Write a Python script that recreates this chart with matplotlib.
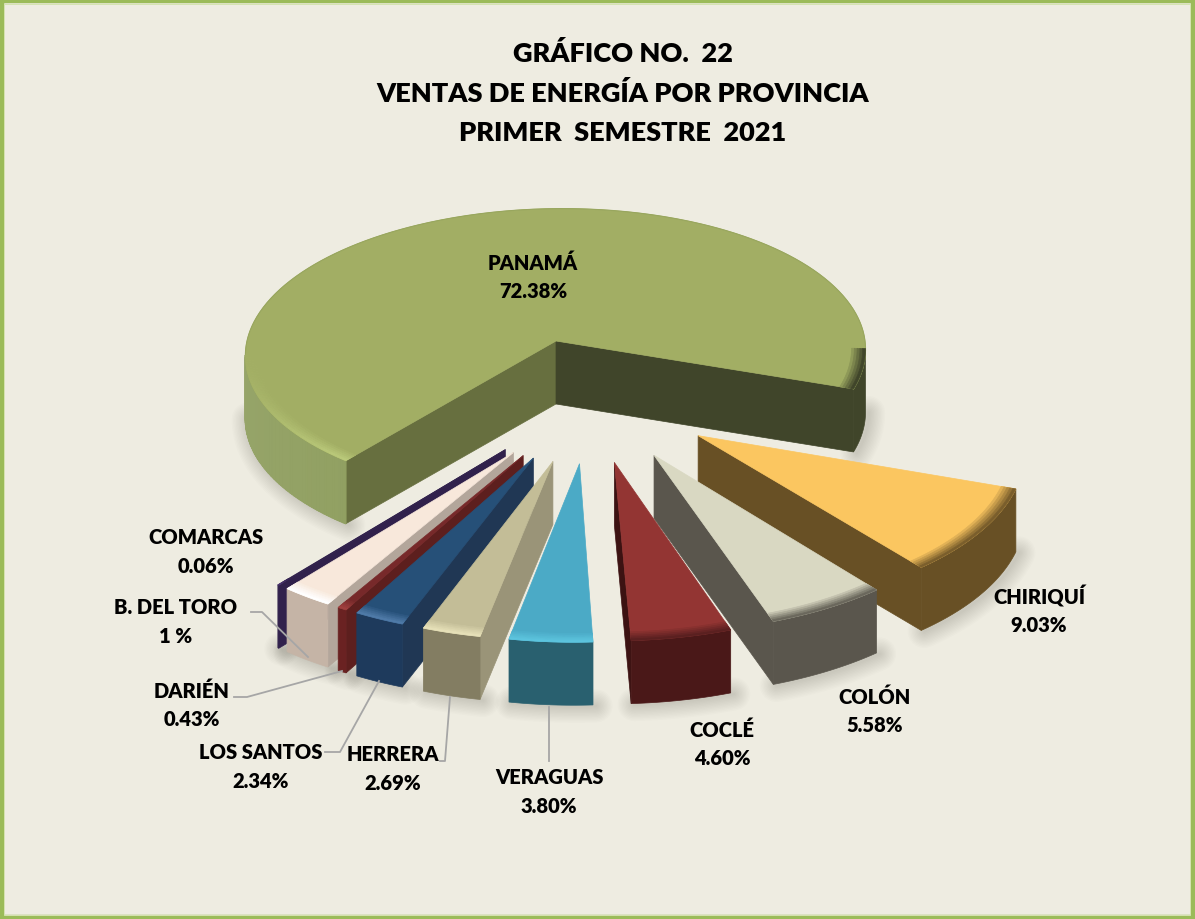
import numpy as np
import matplotlib
matplotlib.use('Agg')
import matplotlib.pyplot as plt
from matplotlib.patches import Polygon, Rectangle
from matplotlib.colors import to_rgb

# ==== DATOS ====
provincias = ['PANAMÁ', 'CHIRIQUÍ', 'COLÓN', 'COCLÉ', 'VERAGUAS', 'HERRERA',
              'LOS SANTOS', 'DARIÉN', 'B. DEL TORO', 'COMARCAS']
etiquetas = ['72.38%', '9.03%', '5.58%', '4.60%', '3.80%', '2.69%',
             '2.34%', '0.43%', '1 %', '0.06%']
# tamaños: los rotulos suman mas de 100 %, Panama se ve
# un poco menor que su rotulo y B. del Toro mas ancha que "1 %"
valores = [71.0, 9.03, 5.58, 4.60, 3.80, 2.69, 2.34, 0.43, 2.4, 0.06]

color_tapa = ['#A2AE64', '#FBC660', '#D9D8C2', '#933533', '#4BAAC6',
              '#C3BD97', '#265078', '#77292A', '#F8E8DB', '#31214C']
color_arco = ['#8A9A58', '#685025', '#5A564D', '#4A1818', '#29606F',
              '#837D62', '#1E3A5C', '#6A2222', '#C5B4A6', '#31214C']
color_cara1 = ['#676F3F', '#685025', '#5A564D', '#3C1212', '#29606F',
               '#9A9478', '#203754', '#5D1F1E', '#B3A69B', '#31214C']
color_cara2 = ['#40452A', '#685025', '#5A564D', '#3C1212', '#29606F',
               '#9A9478', '#203754', '#5D1F1E', '#B3A69B', '#31214C']
color_borde = ['#BAC97A', '#7A5E2C', '#6A675C', '#5A2020', '#5CC4DE',
               '#E6E0B8', '#4F7AA8', '#A0403E', '#FFFFFF', '#4B3570']

# orden de pintado, de atras hacia adelante
orden = [0, 1, 2, 3, 9, 8, 7, 6, 5, 4]

# posiciones de los textos (x, y de la primera linea)
pos_texto = [(533, 263), (1039, 597), (875, 697), (722, 730), (549, 778),
             (393, 755), (261, 753), (192, 691), (176, 608), (206, 538)]
SEP = 29

lineas_guia = [
    [(251, 613), (262, 613), (308, 658)],
    [(234, 698), (247, 698), (342, 672)],
    [(325, 753), (340, 753), (379, 682)],
    [(440, 762), (445, 762), (450, 698)],
    [(549, 708), (549, 762)],
]

# ==== PROYECCION ====
CX, CY = 556, 342
A, B, K = 309, 143, 0.08
CORTE = -7
ALTO = 63
EXPL = 0.41
INICIO = 128.3


def proy(x, y):
    w = 1 - K*y
    return CX + (A*x + CORTE*y)/w, CY + B*y/w


def mezcla(c1, c2, t):
    c1, c2 = np.array(to_rgb(c1)), np.array(to_rgb(c2))
    return tuple(c1*(1-t) + c2*t)


def cuad(ax, pts, color, z=1, lw=0.5):
    ax.add_patch(Polygon(pts, closed=True, fc=color, ec=color, lw=lw, zorder=z))


fig = plt.figure(figsize=(11.95, 9.20), dpi=100)
fig.patch.set_facecolor('#EEECE1')
ax = fig.add_axes([0, 0, 1, 1])
ax.set_xlim(0, 1195)
ax.set_ylim(920, 0)
ax.axis('off')

ax.add_patch(Rectangle((2, 2), 1191, 916, fc='none', ec='#9BBB59', lw=3.2, zorder=20))
ax.add_patch(Rectangle((4.5, 4.5), 1186, 911, fc='none', ec='#D5E3B0', lw=0.7, zorder=20))

# ==== TAJADAS ====
total = sum(valores)
spans = [v/total*360 for v in valores]
ini = INICIO + np.cumsum([0] + spans[:-1])
medio0 = np.radians(ini[0] + spans[0]/2)
# el centro del pastel queda donde la tajada de Panama apunta al origen
cx0, cy0 = -EXPL*np.cos(medio0), -EXPL*np.sin(medio0)

for i in orden:
    a0, a1 = ini[i], ini[i] + spans[i]
    med = np.radians((a0 + a1)/2)
    ox = cx0 + EXPL*np.cos(med)
    oy = cy0 + EXPL*np.sin(med)
    n = max(8, int(spans[i]*1.5))
    angs = np.radians(np.linspace(a0, a1, n))

    ap = np.array(proy(ox, oy))
    arco = np.array([proy(ox + np.cos(t), oy + np.sin(t)) for t in angs])
    abajo = np.array([0, ALTO])

    # tramos del arco que miran al frente
    frente = np.where(arco[1:, 0] < arco[:-1, 0])[0]
    tramos = []
    if len(frente) > 0:
        for tr in np.split(frente, np.where(np.diff(frente) > 1)[0] + 1):
            tramos.append(np.arange(tr[0], tr[-1] + 2))

    # sombra bajo la tajada
    for tr in tramos:
        for lw in range(2, 26, 2):
            ax.plot(arco[tr, 0] + 3, arco[tr, 1] + ALTO + 1, color='black',
                    lw=lw, alpha=0.012, solid_capstyle='round', zorder=1)

    z = 2 + orden.index(i)

    # caras de corte
    if arco[0, 0] < ap[0]:
        cuad(ax, [ap, arco[0], arco[0] + abajo, ap + abajo], color_cara1[i], z)
    if ap[0] < arco[-1, 0]:
        cuad(ax, [ap, arco[-1], arco[-1] + abajo, ap + abajo], color_cara2[i], z)

    # pared curva
    for tr in tramos:
        derecha = i == 0 and np.cos(angs[tr[0]]) > 0
        base = color_cara2[0] if derecha else color_arco[i]
        cuad(ax, np.vstack([arco[tr], (arco[tr] + abajo)[::-1]]), base, z)
        if i == 0 and not derecha:
            for j in tr[:-1]:
                col = mezcla(base, '#FFFFFF', 0.10*abs(np.cos(angs[j])))
                cuad(ax, [arco[j], arco[j+1], arco[j+1] + abajo, arco[j] + abajo], col, z, lw=1)

    # tapa
    cuad(ax, np.vstack([ap, arco]), color_tapa[i], z)
    if i == 0:
        ax.plot(arco[:, 0], arco[:, 1], color='#98A65E', lw=0.8, zorder=z)

    # bisel en el filo
    radios = np.linspace(0.955, 1.0, 6)
    for r in range(5):
        for tr in tramos:
            derecha = i == 0 and np.cos(angs[tr[0]]) > 0
            filo = color_cara2[0] if derecha else color_borde[i]
            p_in = np.array([proy(ox + radios[r]*np.cos(angs[j]), oy + radios[r]*np.sin(angs[j])) for j in tr])
            p_out = np.array([proy(ox + radios[r+1]*np.cos(angs[j]), oy + radios[r+1]*np.sin(angs[j])) for j in tr])
            if i == 0 and not derecha:
                # en Panama el brillo se apaga hacia la izquierda
                for j in range(len(tr) - 1):
                    fuerza = min(1, 1.7*np.sin(angs[tr[j]])**2)
                    col = mezcla(color_tapa[i], filo, (r + 1)/5*fuerza)
                    cuad(ax, [p_in[j], p_in[j+1], p_out[j+1], p_out[j]], col, z)
            else:
                col = mezcla(color_tapa[i], filo, (r + 1)/5)
                cuad(ax, np.vstack([p_in, p_out[::-1]]), col, z)

# ==== TEXTOS ====
for lin in lineas_guia:
    xs, ys = zip(*lin)
    ax.plot(xs, ys, color='#A6A6A6', lw=1.3, zorder=15)

fuente = ['Lato', 'DejaVu Sans']
for nom, et, (x, y) in zip(provincias, etiquetas, pos_texto):
    ax.text(x, y, nom, ha='center', va='center', fontsize=14.5, fontweight='heavy',
            family=fuente, color='black', zorder=16)
    ax.text(x, y + SEP, et, ha='center', va='center', fontsize=14.5, fontweight='heavy',
            family=fuente, color='black', zorder=16)

titulo = ['GRÁFICO NO.  22', 'VENTAS DE ENERGÍA POR PROVINCIA', 'PRIMER  SEMESTRE  2021']
for lin, y in zip(titulo, [54, 93, 133]):
    ax.text(623, y, lin, ha='center', va='center', fontsize=19.5, fontweight='heavy',
            family=fuente, color='black', zorder=16)

fig.savefig('out.png', dpi=100, facecolor=fig.get_facecolor())
